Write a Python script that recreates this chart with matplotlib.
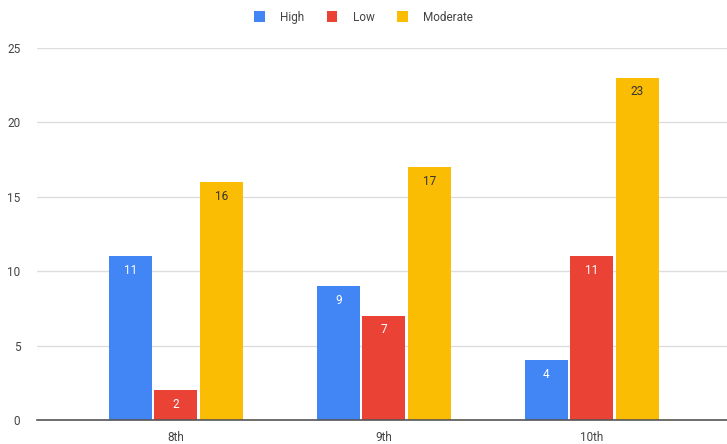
import numpy as np
import matplotlib.pyplot as plt

grades = ['8th', '9th', '10th']
series_names = ['High', 'Low', 'Moderate']
high = [11, 9, 4]
low = [2, 7, 11]
moderate = [16, 17, 23]
y_ticks = [0, 5, 10, 15, 20, 25]

colors = ['#4285f4', '#ea4335', '#fbbc04']
label_colors = ['white', 'white', '#333333']

plt.rcParams['font.family'] = ['Roboto', 'DejaVu Sans']

fig = plt.figure(figsize=(7.27, 4.44), dpi=100)
ax = fig.add_axes([37 / 727, 24 / 444, 690 / 727, 372 / 444])

x = np.arange(len(grades))
width = 0.207
step = 0.219

for i, (name, vals) in enumerate(zip(series_names, [high, low, moderate])):
    pos = x + (i - 1) * step
    bars = ax.bar(pos, vals, width, color=colors[i], label=name, zorder=3)
    for b, v in zip(bars, vals):
        ax.text(b.get_x() + b.get_width() / 2, v - 0.95, str(v),
                ha='center', va='center', fontsize=8.5,
                color=label_colors[i], zorder=4)

ax.set_xlim(-0.668, 2.65)
ax.set_ylim(0, 25)
ax.set_yticks(y_ticks)
ax.set_xticks(x)
ax.set_xticklabels(grades)
ax.tick_params(axis='both', length=0, labelsize=8.5, colors='#444444')
ax.tick_params(axis='y', pad=12)
ax.tick_params(axis='x', pad=8)
ax.grid(axis='y', color='#dddddd', linewidth=1, zorder=0)
for s in ['top', 'right', 'left']:
    ax.spines[s].set_visible(False)
ax.spines['bottom'].set_color('#555555')
ax.spines['bottom'].set_linewidth(1.2)
ax.spines['bottom'].set_zorder(5)

fig.legend(loc='upper center', bbox_to_anchor=(0.5, 1.0), ncol=3,
           frameon=False, fontsize=8.5, handlelength=0.9, handleheight=1.1,
           handletextpad=1.3, columnspacing=1.9, labelcolor='#444444')

fig.savefig('out.png', dpi=100)
